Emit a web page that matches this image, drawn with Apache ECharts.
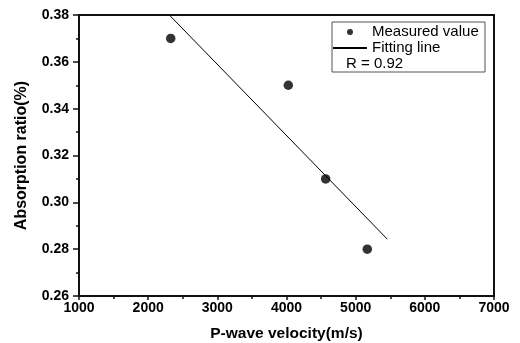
<!DOCTYPE html>
<html><head><meta charset="utf-8">
<script src="https://cdn.jsdelivr.net/npm/echarts@6/dist/echarts.min.js"></script>
<style>html,body{margin:0;padding:0;background:#fff}#c{width:520px;height:343px}</style>
</head><body><div id="c"></div>
<script>
const velocity = [2326, 4026, 4566, 5168];
const absorption = [0.37, 0.35, 0.31, 0.28];
const fitX = [2306, 5457];
const fitY = [0.38, 0.2843];
const xTicks = [1000, 2000, 3000, 4000, 5000, 6000, 7000];
const yTicks = [0.26, 0.28, 0.30, 0.32, 0.34, 0.36, 0.38];
const rLabel = 'R = 0.92';

const font = '"Liberation Sans", Arial, sans-serif';
const chart = echarts.init(document.getElementById('c'));
chart.setOption({
  animation: false,
  backgroundColor: '#fff',
  textStyle: {fontFamily: font, color: '#000'},
  grid: {left: 79, right: 26, top: 15, bottom: 47, outerBoundsMode: 'none', containLabel: false,
    show: true, borderColor: '#111', borderWidth: 2, backgroundColor: 'transparent'},
  xAxis: {
    type: 'value', min: xTicks[0], max: xTicks[xTicks.length-1], interval: 1000,
    name: 'P-wave velocity(m/s)', nameLocation: 'middle', nameGap: 30,
    nameTextStyle: {fontFamily: font, fontWeight: 'bold', fontSize: 15.5, color: '#000'},
    axisLine: {lineStyle: {color: '#111', width: 2}},
    axisTick: {length: 4, lineStyle: {color: '#111', width: 1.5}},
    minorTick: {show: true, splitNumber: 2, length: 3, lineStyle: {color: '#111', width: 1.5}},
    splitLine: {show: false},
    axisLabel: {fontFamily: font, fontWeight: 'bold', fontSize: 14, color: '#000', margin: 5,
      formatter: v => String(v)}
  },
  yAxis: {
    type: 'value', min: yTicks[0], max: yTicks[yTicks.length-1], interval: 0.02,
    name: 'Absorption ratio(%)', nameLocation: 'middle', nameGap: 49,
    nameTextStyle: {fontFamily: font, fontWeight: 'bold', fontSize: 16, color: '#000'},
    axisLine: {lineStyle: {color: '#111', width: 2}},
    axisTick: {length: 6, lineStyle: {color: '#111', width: 1.5}},
    minorTick: {show: true, splitNumber: 2, length: 3, lineStyle: {color: '#111', width: 1.5}},
    splitLine: {show: false},
    axisLabel: {fontFamily: font, fontWeight: 'bold', fontSize: 14, color: '#000', margin: 10,
      formatter: v => v.toFixed(2)}
  },
  legend: {
    orient: 'vertical', left: 332, top: 24, padding: 0, itemGap: 0,
    itemWidth: 34, itemHeight: 6,
    textStyle: {fontFamily: font, fontSize: 15, color: '#000', lineHeight: 16},
    data: ['Measured value', {name: 'Fitting line', itemStyle: {opacity: 0}}]
  },
  graphic: [
    {type: 'rect', shape: {x: 332, y: 22, width: 153, height: 50}, style: {fill: 'none', stroke: '#555', lineWidth: 1}, z: 100},
    {type: 'text', left: 346, top: 56, style: {text: rLabel, font: '15px ' + font, fill: '#000'}, z: 100}
  ],
  series: [
    {name: 'Measured value', type: 'scatter', symbol: 'circle', symbolSize: 9.5,
      itemStyle: {color: '#000'}, data: velocity.map((v, i) => [v, absorption[i]]), z: 5},
    {name: 'Fitting line', type: 'line', symbol: 'none', showSymbol: false,
      lineStyle: {color: '#000', width: 1}, itemStyle: {color: '#000'},
      data: fitX.map((v, i) => [v, fitY[i]])}
  ]
});
</script></body></html>
